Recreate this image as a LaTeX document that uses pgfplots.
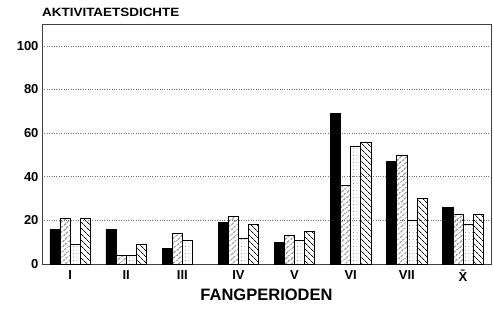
\documentclass[border=0pt]{standalone}
\usepackage{fontspec}
\setmainfont{Liberation Sans}
\usepackage{pgfplots}
\pgfplotsset{compat=1.18}
\usetikzlibrary{patterns.meta}
\begin{document}
\begin{tikzpicture}
\useasboundingbox (-42pt,-49pt) rectangle (452pt,264pt);
\begin{axis}[
  scale only axis, width=449pt, height=240pt,
  xmin=-0.5, xmax=7.5, ymin=0, ymax=110,
  xtick={0,1,2,3,4,5,6,7},
  xticklabels={I,II,III,IV,V,VI,VII,\={X}},
  ytick={0,20,40,60,80,100},
  major tick length=0pt,
  /pgf/number format/assume math mode=true,
  tick label style={font=\bfseries\fontsize{13}{14}\selectfont},
  yticklabel style={xshift=0pt},
  xticklabel style={yshift=-3pt},
  ymajorgrids, grid style={black!55, dotted, line width=0.6pt},
  axis line style={black!75, line width=0.8pt},
  xlabel={\bfseries\fontsize{16.5}{18}\selectfont FANGPERIODEN},
  xlabel style={yshift=-1pt},
  ybar, bar width=0.18,
  every axis plot/.append style={draw=black, line width=0.6pt},
  clip=false,
]
\addplot[fill=black, bar shift=-0.27] coordinates {(0,16) (1,16) (2,7) (3,19) (4,10) (5,69) (6,47) (7,26)};
\addplot[pattern={Lines[angle=40,distance=4pt,line width=0.6pt]}, bar shift=-0.09] coordinates {(0,21) (1,4) (2,14) (3,22) (4,13) (5,36) (6,50) (7,23)};
\addplot[pattern={Dots[distance=3.5pt,radius=0.35pt]}, pattern color=black!70, bar shift=0.09] coordinates {(0,9) (1,4) (2,11) (3,12) (4,11) (5,54) (6,20) (7,18)};
\addplot[pattern={Lines[angle=-45,distance=4pt,line width=0.8pt]}, bar shift=0.27] coordinates {(0,21) (1,9) (3,18) (4,15) (5,56) (6,30) (7,23)};
\node[anchor=base west, inner sep=0pt, font=\bfseries\fontsize{12}{13}\selectfont] at ([yshift=7pt]rel axis cs:0,1) {\scalebox{1.12}[1]{AKTIVITAETSDICHTE}};
\end{axis}
\end{tikzpicture}
\end{document}
